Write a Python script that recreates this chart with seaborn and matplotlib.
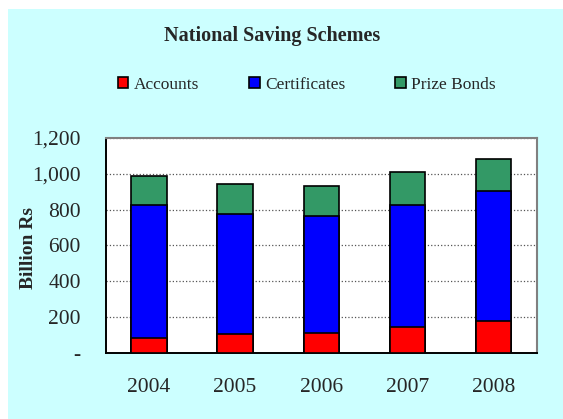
import numpy as np
import pandas as pd
import seaborn as sns
import matplotlib.pyplot as plt
from matplotlib.patches import Patch, Rectangle

years = ['2004', '2005', '2006', '2007', '2008']
accounts = [82, 106, 113, 147, 177]
certificates = [746, 667, 649, 680, 724]
prize_bonds = [160, 171, 171, 180, 182]

df = pd.DataFrame({'Anno': years, 'Accounts': accounts,
                   'Certificates': certificates, 'Prize Bonds': prize_bonds})
# stacked bars: cumulative totals drawn from the tallest down
df['c1'] = df['Accounts']
df['c2'] = df['c1'] + df['Certificates']
df['c3'] = df['c2'] + df['Prize Bonds']

sns.set_style('white')
plt.rcParams['font.family'] = ['Liberation Serif', 'DejaVu Serif']

fig = plt.figure(figsize=(5.63, 4.19), dpi=100)
fig.patch.set_facecolor('white')
fig.patches.append(Rectangle((8 / 563, 0), 1, 1 - 9 / 419, transform=fig.transFigure,
                             facecolor='#CCFFFF', edgecolor='none', zorder=-10))
ax = fig.add_axes([0.188, 0.1575, 0.765, 0.5135])
ax.set_facecolor('white')

colori = {'c3': '#339966', 'c2': '#0000FF', 'c1': '#FF0000'}
for col, c in colori.items():
    sns.barplot(data=df, x='Anno', y=col, color=c, saturation=1, width=0.41,
                edgecolor='black', linewidth=1.2, ax=ax, zorder=3)

ax.set_ylim(0, 1200)
ax.set_xlim(-0.5, 4.5)
ax.set_yticks(range(0, 1201, 200))
ax.set_yticklabels(['-'] + ['{:,}'.format(v) for v in range(200, 1201, 200)], fontsize=15.5)
ax.set_xticks(range(5))
ax.set_xticklabels(years, fontsize=15.5)
ax.set_xticks(np.arange(-0.5, 5, 1), minor=True)
ax.tick_params(axis='x', which='major', length=0, pad=18)
ax.tick_params(axis='x', which='minor', length=6, width=1.2, direction='out', color='black')
ax.tick_params(axis='y', length=5, width=1.2, direction='out', color='black', pad=13)
ax.yaxis.grid(True, linestyle=':', color='#555555', linewidth=0.9, zorder=0)
ax.set_axisbelow(True)

for s in ['left', 'bottom']:
    ax.spines[s].set_color('black')
    ax.spines[s].set_linewidth(1.4)
for s in ['top', 'right']:
    ax.spines[s].set_color('#808080')
    ax.spines[s].set_linewidth(1.5)

ax.set_xlabel('')
ax.set_ylabel('Billion Rs', fontsize=14, fontweight='bold')
ax.yaxis.set_label_coords(-0.16, 0.49)

fig.text(0.483, 0.913, 'National Saving Schemes', ha='center', va='center',
         fontsize=14.5, fontweight='bold')

handles = [Patch(facecolor='#FF0000', edgecolor='black', linewidth=1.2, label='Accounts'),
           Patch(facecolor='#0000FF', edgecolor='black', linewidth=1.2, label='Certificates'),
           Patch(facecolor='#339966', edgecolor='black', linewidth=1.2, label='Prize Bonds')]
fig.legend(handles=handles, loc='center', bbox_to_anchor=(0.545, 0.797), ncol=3,
           frameon=False, fontsize=12.5, handlelength=0.6, handleheight=0.6,
           handletextpad=0.3, columnspacing=2.9)

plt.savefig('out.png', dpi=100)
